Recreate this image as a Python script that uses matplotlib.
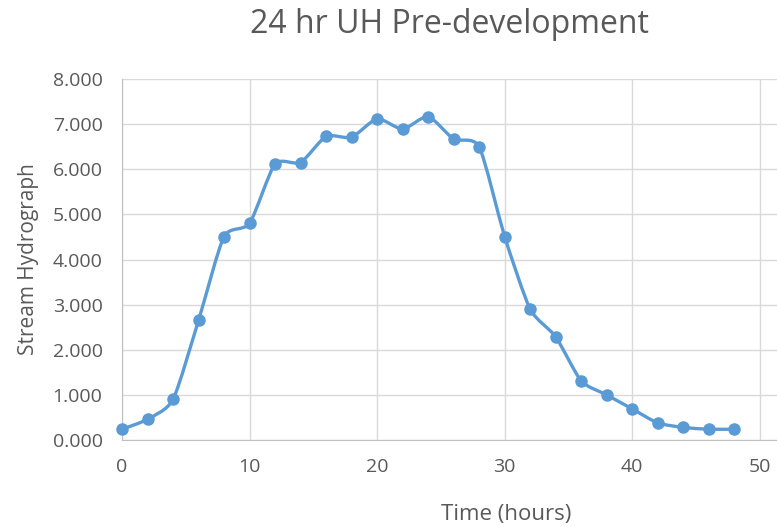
import matplotlib.pyplot as plt
import numpy as np
from matplotlib.path import Path
from matplotlib.patches import PathPatch

plt.rcParams['font.family'] = ['Open Sans', 'DejaVu Sans']

hours = [0, 2, 4, 6, 8, 10, 12, 14, 16, 18, 20, 22, 24,
         26, 28, 30, 32, 34, 36, 38, 40, 42, 44, 46, 48]
flow = [0.24, 0.46, 0.90, 2.65, 4.51, 4.80, 6.12, 6.15, 6.73, 6.71, 7.12, 6.89, 7.17,
        6.67, 6.50, 4.51, 2.90, 2.29, 1.31, 1.00, 0.69, 0.38, 0.28, 0.24, 0.24]
xticks = [0, 10, 20, 30, 40, 50]
yticks = [0, 1, 2, 3, 4, 5, 6, 7, 8]

blue = '#5B9BD5'
grey = '#595959'


def smooth_path(x, y, t=0.11):
    # cubic bezier through the points, like a spreadsheet "smoothed line"
    x = np.asarray(x, float)
    y = np.asarray(y, float)
    verts = [(x[0], y[0])]
    codes = [Path.MOVETO]
    n = len(x)
    for i in range(n - 1):
        p0 = (x[max(i - 1, 0)], y[max(i - 1, 0)])
        p1 = (x[i], y[i])
        p2 = (x[i + 1], y[i + 1])
        p3 = (x[min(i + 2, n - 1)], y[min(i + 2, n - 1)])
        c1 = (p1[0] + (p2[0] - p0[0]) * t, p1[1] + (p2[1] - p0[1]) * t)
        c2 = (p2[0] - (p3[0] - p1[0]) * t, p2[1] - (p3[1] - p1[1]) * t)
        verts += [c1, c2, p2]
        codes += [Path.CURVE4] * 3
    return Path(verts, codes)


fig = plt.figure(figsize=(7.77, 5.27), dpi=100)
ax = fig.add_axes([0.157, 0.165, 0.843, 0.685])

ax.add_patch(PathPatch(smooth_path(hours, flow), fill=False, edgecolor=blue,
                       lw=2.4, capstyle='round', joinstyle='round', zorder=3))
ax.plot(hours, flow, linestyle='none', marker='o', markersize=8,
        color=blue, zorder=4, clip_on=False)

ax.set_xlim(0, 51.35)
ax.set_ylim(0, 8)
ax.set_xticks(xticks)
ax.set_yticks(yticks)
ax.set_yticklabels([f'{v:.3f}' for v in yticks])
ax.grid(True, color='#D9D9D9', lw=1)
ax.set_axisbelow(True)
for s in ['top', 'right']:
    ax.spines[s].set_visible(False)
for s in ['left', 'bottom']:
    ax.spines[s].set_color('#BFBFBF')
ax.tick_params(length=0, labelsize=14, colors=grey)
ax.tick_params(axis='y', pad=14)
ax.tick_params(axis='x', pad=13)

ax.set_title('24 hr UH Pre-development', fontsize=23, color=grey, pad=33)
ax.set_xlabel('Time (hours)', fontsize=16, color=grey)
ax.xaxis.set_label_coords(0.586, -0.178)
ax.set_ylabel('Stream Hydrograph', fontsize=15, color=grey, labelpad=10)

fig.savefig('out.png', dpi=100)
